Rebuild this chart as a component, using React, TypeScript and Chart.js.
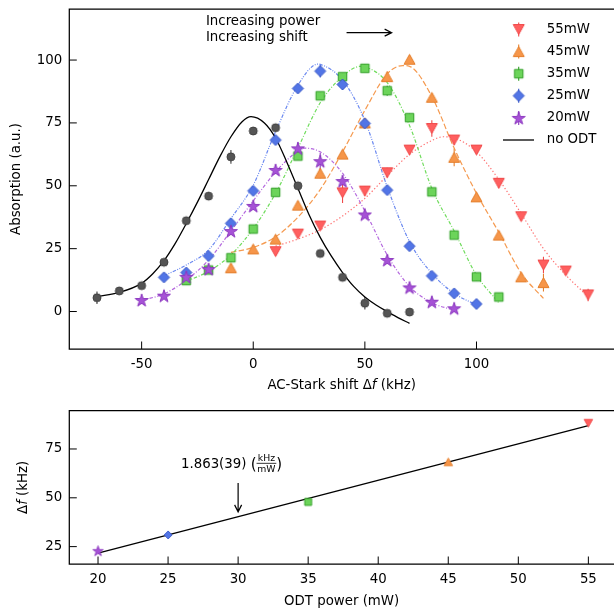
import React, { useEffect, useRef } from "react";
import { Chart, registerables } from "chart.js";

Chart.register(...registerables);

// ---------------- Top panel: absorption spectra ----------------
const xTicksTop = [-50, 0, 50, 100];
const yTicksTop = [0, 25, 50, 75, 100];

const x55 = [10, 20, 30, 40, 50, 60, 70, 80, 90, 100, 110, 120, 130, 140, 150];
const y55 = [23.8, 30.8, 34, 47.2, 47.9, 55.2, 64.2, 72.8, 68.2, 64.2, 51, 37.7, 18.5, 16.1, 6.6];
const e55 = [1.5, 1.5, 1.5, 4, 2, 2, 1.5, 3.3, 2, 1.5, 2, 1.5, 3.3, 1.5, 2.5];
const fitX55 = [10, 20, 30, 40, 50, 60, 70, 80, 85, 90, 100, 110, 120, 130, 140, 150];
const fitY55 = [26, 28.8, 32.5, 38, 45, 54, 62.5, 68, 69.5, 69, 63.5, 52.5, 39, 25, 14.5, 6];

const x45 = [-10, 0, 10, 20, 30, 40, 50, 60, 70, 80, 90, 100, 110, 120, 130];
const y45 = [17.4, 24.9, 28.8, 42.3, 55, 62.6, 75, 93.4, 100.3, 85.2, 61.3, 45.6, 30.4, 13.8, 11.5];
const e45 = [1.5, 1.5, 1.5, 1.5, 2, 1.5, 1.5, 2, 1.5, 1.5, 3.5, 1.5, 1.5, 1.5, 3.5];
const fitX45 = [-10, 0, 10, 20, 30, 40, 50, 60, 67, 70, 80, 90, 100, 110, 120, 130];
const fitY45 = [23.5, 25.5, 29.7, 37.5, 48.5, 63.5, 80, 94.5, 97.8, 97.5, 85.5, 65, 47, 31.5, 15.3, 5.2];

const x35 = [-30, -20, -10, 0, 10, 20, 30, 40, 50, 60, 70, 80, 90, 100, 110];
const y35 = [12.3, 16.5, 21.4, 32.8, 47.4, 61.8, 85.8, 93.4, 96.7, 87.8, 77.1, 47.6, 30.4, 13.8, 5.8];
const e35 = [1.5, 1.5, 1.5, 1.5, 1.5, 1.5, 1.5, 1.5, 1.5, 2, 1.5, 1.5, 1.5, 1.5, 1.5];
const fitX35 = [-30, -20, -10, 0, 10, 20, 30, 40, 48, 50, 60, 70, 80, 90, 100, 110];
const fitY35 = [12, 16, 22.5, 33, 47, 65, 83, 93.5, 97.5, 97.3, 91, 74, 49, 32, 14.5, 3.5];

const x25 = [-40, -30, -20, -10, 0, 10, 20, 30, 40, 50, 60, 70, 80, 90, 100];
const y25 = [13.6, 15.5, 22.1, 35.1, 48, 68.2, 88.7, 95.6, 90.3, 74.8, 48.3, 26, 14.2, 7.2, 3];
const e25 = [1.5, 1.5, 1.5, 1.5, 1.5, 1.5, 1.5, 2.5, 2, 1.5, 1.5, 1.5, 1.5, 1.5, 1.5];
const fitX25 = [-40, -30, -20, -10, 0, 10, 20, 29, 30, 40, 50, 60, 70, 80, 90, 100];
const fitY25 = [14.2, 18.5, 24.5, 37, 50.3, 71.5, 90, 98.4, 98.3, 92, 76, 49.6, 27.8, 15.2, 7.2, 2.6];

const x20 = [-50, -40, -30, -20, -10, 0, 10, 20, 30, 40, 50, 60, 70, 80, 90];
const y20 = [4.6, 6.3, 13.8, 16.9, 32, 42, 56.3, 64.9, 59.8, 51.9, 38.6, 20.5, 9.6, 3.9, 1.3];
const e20 = [1.5, 1.5, 1.5, 1.5, 1.5, 1.5, 1.5, 2.5, 3.3, 1.5, 1.5, 1.5, 1.5, 1.5, 1.5];
const fitX20 = [-50, -40, -30, -20, -10, 0, 10, 20, 22, 30, 40, 50, 60, 70, 80, 90];
const fitY20 = [4.5, 7, 12.5, 20.5, 32, 44, 55.5, 64, 65, 63.5, 55, 40, 22.5, 10, 3.5, 0.5];

const x0 = [-70, -60, -50, -40, -30, -20, -10, 0, 10, 20, 30, 40, 50, 60, 70];
const y0 = [5.5, 8.2, 10.3, 19.6, 36.1, 45.9, 61.5, 71.8, 73.1, 50, 23.1, 13.6, 3.3, -0.7, -0.2];
const e0 = [2.5, 1, 1, 1, 1.5, 1.5, 2.7, 1.5, 1.5, 1, 1, 1, 2.5, 1, 1];
const fitX0 = [-70, -60, -50, -45, -40, -35, -30, -25, -20, -15, -10, -5, -1, 5, 10, 15, 20, 25, 30, 35, 40, 45, 50, 55, 60, 65, 70];
const fitY0 = [5.9, 7.6, 11.2, 15, 20.2, 27, 35, 43.5, 52.5, 61.5, 69.5, 75.5, 77.5, 75, 69, 59.5, 49, 38.5, 29.5, 22, 15.5, 10, 5.8, 2.6, 0, -2.5, -4.7];

const seriesLabels = ["55mW", "45mW", "35mW", "25mW", "20mW", "no ODT"];

// ---------------- Bottom panel: shift vs power ----------------
const xTicksBottom = [20, 25, 30, 35, 40, 45, 50, 55];
const yTicksBottom = [25, 50, 75];
const odtPower = [20, 25, 35, 45, 55];
const starkShift = [22.9, 31, 47.9, 68.4, 88.2];
const linFitPower = [20, 55];
const linFitShift = [21.7, 86.9];

// ---------------- styling ----------------
const FAMILY = '"DejaVu Sans", sans-serif';
const FS = 13.33;
const fnt = (size: number, style = "") => `${style} ${size}px ${FAMILY}`.trim();

type Sty = { shape: string; fill: string; edge: string; line: string; dash: number[] };
const STY: Sty[] = [
  { shape: "v", fill: "#ff5f5f", edge: "#f04a4a", line: "#ff7070", dash: [1.3, 2.2] },
  { shape: "^", fill: "#f6964a", edge: "#e57f2c", line: "#f59a50", dash: [5.5, 2.4] },
  { shape: "s", fill: "#6cd45a", edge: "#2f9e24", line: "#6fdc5c", dash: [3.5, 1.8, 1, 1.8] },
  { shape: "D", fill: "#5275e6", edge: "#3454c6", line: "#6a88f0", dash: [3.5, 1.4, 1, 1.4, 1, 1.4] },
  { shape: "*", fill: "#a652d6", edge: "#8c38c0", line: "#b468de", dash: [3.5, 1.8, 1, 1.8] },
  { shape: "o", fill: "#555555", edge: "#404040", line: "#000000", dash: [] },
];

function makeMarker(shape: string, size: number, fill: string, edge: string, lw = 1): HTMLCanvasElement {
  const dim = Math.ceil(size + 4);
  const c = document.createElement("canvas");
  c.width = dim;
  c.height = dim;
  const g = c.getContext("2d")!;
  const cx = dim / 2, cy = dim / 2, r = size / 2;
  g.beginPath();
  if (shape === "v") {
    g.moveTo(cx - r, cy - r * 0.9); g.lineTo(cx + r, cy - r * 0.9); g.lineTo(cx, cy + r * 0.9);
  } else if (shape === "^") {
    g.moveTo(cx - r, cy + r * 0.9); g.lineTo(cx + r, cy + r * 0.9); g.lineTo(cx, cy - r * 0.9);
  } else if (shape === "s") {
    g.rect(cx - r, cy - r, size, size);
  } else if (shape === "D") {
    g.moveTo(cx, cy - r); g.lineTo(cx + r, cy); g.lineTo(cx, cy + r); g.lineTo(cx - r, cy);
  } else if (shape === "*") {
    const oy = cy + r * 0.1;
    for (let k = 0; k < 10; k++) {
      const a = -Math.PI / 2 + (k * Math.PI) / 5;
      const rr = k % 2 ? r * 0.382 : r;
      const px = cx + rr * Math.cos(a), py = oy + rr * Math.sin(a);
      if (k === 0) g.moveTo(px, py); else g.lineTo(px, py);
    }
  } else {
    g.arc(cx, cy, r, 0, Math.PI * 2);
  }
  g.closePath();
  g.fillStyle = fill;
  g.fill();
  g.lineWidth = lw;
  g.strokeStyle = edge;
  g.stroke();
  return c;
}

const TOP_SIZES: Record<string, number> = { v: 11, "^": 11, s: 8.5, D: 11, "*": 13.6, o: 8 };
const BOT_SIZES: Record<string, number> = { v: 8.5, "^": 8.5, s: 7, D: 8, "*": 11, o: 7 };

function drawRich(ctx: CanvasRenderingContext2D, parts: { t: string; i?: boolean }[], x: number, y: number, rotate = false) {
  ctx.save();
  ctx.translate(x, y);
  if (rotate) ctx.rotate(-Math.PI / 2);
  let total = 0;
  const ws = parts.map((p) => {
    ctx.font = fnt(FS, p.i ? "italic" : "");
    const w = ctx.measureText(p.t).width;
    total += w;
    return w;
  });
  let cx = -total / 2;
  ctx.textBaseline = "middle";
  ctx.textAlign = "left";
  ctx.fillStyle = "#000";
  parts.forEach((p, k) => {
    ctx.font = fnt(FS, p.i ? "italic" : "");
    ctx.fillText(p.t, cx, 0);
    cx += ws[k];
  });
  ctx.restore();
}

function drawFrame(chart: any, xT: number[], yT: number[]) {
  const { ctx, chartArea: a, scales } = chart;
  ctx.save();
  ctx.strokeStyle = "#000";
  ctx.lineWidth = 1.25;
  ctx.beginPath();
  ctx.moveTo(a.right + 2, a.top);
  ctx.lineTo(a.left, a.top);
  ctx.lineTo(a.left, a.bottom);
  ctx.lineTo(a.right + 2, a.bottom);
  ctx.stroke();
  ctx.lineWidth = 1;
  ctx.beginPath();
  for (const v of xT) {
    const px = scales.x.getPixelForValue(v);
    ctx.moveTo(px, a.bottom);
    ctx.lineTo(px, a.bottom - 7.5);
  }
  for (const v of yT) {
    const py = scales.y.getPixelForValue(v);
    ctx.moveTo(a.left, py);
    ctx.lineTo(a.left + 7.5, py);
  }
  ctx.stroke();
  ctx.restore();
}

function arrow(ctx: CanvasRenderingContext2D, x1: number, y1: number, x2: number, y2: number) {
  const ang = Math.atan2(y2 - y1, x2 - x1);
  const hl = 7, hw = 3.5;
  ctx.save();
  ctx.strokeStyle = "#000";
  ctx.lineWidth = 1.2;
  ctx.beginPath();
  ctx.moveTo(x1, y1);
  ctx.lineTo(x2, y2);
  ctx.moveTo(x2 - hl * Math.cos(ang) + hw * Math.sin(ang), y2 - hl * Math.sin(ang) - hw * Math.cos(ang));
  ctx.lineTo(x2, y2);
  ctx.lineTo(x2 - hl * Math.cos(ang) - hw * Math.sin(ang), y2 - hl * Math.sin(ang) + hw * Math.cos(ang));
  ctx.stroke();
  ctx.restore();
}

function scaleOpts(min: number, max: number, ticks: number[], axis: "x" | "y", size: number, pad: number) {
  return {
    type: "linear",
    min,
    max,
    grid: { display: false, drawTicks: false },
    border: { display: false },
    afterBuildTicks: (s: any) => {
      s.ticks = ticks.map((v) => ({ value: v }));
    },
    afterFit: (s: any) => {
      if (axis === "x") s.height = size;
      else s.width = size;
      s.paddingLeft = 0;
      s.paddingRight = 0;
      s.paddingTop = 0;
      s.paddingBottom = 0;
    },
    ticks: {
      autoSkip: false,
      maxRotation: 0,
      minRotation: 0,
      padding: pad,
      color: "#000",
      font: { family: FAMILY, size: FS },
      callback: (v: any) => String(v),
    },
  };
}

export default function App() {
  const topRef = useRef<HTMLCanvasElement | null>(null);
  const botRef = useRef<HTMLCanvasElement | null>(null);

  useEffect(() => {
    const xs = [x55, x45, x35, x25, x20, x0];
    const ys = [y55, y45, y35, y25, y20, y0];
    const es = [e55, e45, e35, e25, e20, e0];
    const fxs = [fitX55, fitX45, fitX35, fitX25, fitX20, fitX0];
    const fys = [fitY55, fitY45, fitY35, fitY25, fitY20, fitY0];

    const topMarkers = STY.map((s) => makeMarker(s.shape, TOP_SIZES[s.shape], s.fill, s.edge, 1));
    const botMarkers = STY.map((s) => makeMarker(s.shape, BOT_SIZES[s.shape], s.fill, s.edge, 0.9));

    const pointSets: any[] = [];
    for (let k = 5; k >= 0; k--) {
      pointSets.push({
        type: "scatter",
        label: seriesLabels[k],
        data: xs[k].map((x, i) => ({ x, y: ys[k][i] })),
        errors: es[k],
        errColor: STY[k].edge,
        pointStyle: topMarkers[k],
        pointRadius: 5,
        showLine: false,
      });
    }
    const fitSets: any[] = [];
    for (let k = 5; k >= 0; k--) {
      fitSets.push({
        type: "line",
        label: seriesLabels[k] + " fit",
        data: fxs[k].map((x, i) => ({ x, y: fys[k][i] })),
        borderColor: STY[k].line,
        borderWidth: k === 5 ? 1.3 : 1.2,
        borderDash: STY[k].dash,
        pointRadius: 0,
        cubicInterpolationMode: "monotone",
        fill: false,
      });
    }

    const topPlugin = {
      id: "topDecor",
      beforeDatasetsDraw(chart: any) {
        const { ctx, chartArea: a, scales } = chart;
        ctx.save();
        ctx.beginPath();
        ctx.rect(a.left, a.top, a.right - a.left, a.bottom - a.top);
        ctx.clip();
        ctx.lineWidth = 1.1;
        chart.data.datasets.forEach((ds: any) => {
          if (!ds.errors) return;
          ctx.strokeStyle = ds.errColor;
          ctx.beginPath();
          ds.data.forEach((p: any, i: number) => {
            const px = scales.x.getPixelForValue(p.x);
            ctx.moveTo(px, scales.y.getPixelForValue(p.y - ds.errors[i]));
            ctx.lineTo(px, scales.y.getPixelForValue(p.y + ds.errors[i]));
          });
          ctx.stroke();
        });
        ctx.restore();
      },
      afterDraw(chart: any) {
        const { ctx, chartArea: a, scales } = chart;
        drawFrame(chart, xTicksTop, yTicksTop);
        drawRich(ctx, [{ t: "AC-Stark shift Δ" }, { t: "f", i: true }, { t: " (kHz)" }], (a.left + a.right) / 2, a.bottom + 37);
        drawRich(ctx, [{ t: "Absorption (a.u.)" }], 17, (a.top + a.bottom) / 2, true);
        ctx.save();
        ctx.font = fnt(FS);
        ctx.fillStyle = "#000";
        ctx.textAlign = "left";
        ctx.textBaseline = "alphabetic";
        const tx = scales.x.getPixelForValue(-21.2);
        ctx.fillText("Increasing power", tx, scales.y.getPixelForValue(114.0));
        ctx.fillText("Increasing shift", tx, scales.y.getPixelForValue(107.4));
        ctx.restore();
        const ay = scales.y.getPixelForValue(110.9);
        arrow(ctx, scales.x.getPixelForValue(41.8), ay, scales.x.getPixelForValue(62.0), ay);
        const mx = 518.7, txl = 546.7, y0p = 29.5, dy = 22.1;
        ctx.save();
        seriesLabels.forEach((lab, k) => {
          const yy = y0p + dy * k;
          if (k < 5) {
            ctx.strokeStyle = STY[k].edge;
            ctx.lineWidth = 1.1;
            ctx.beginPath();
            ctx.moveTo(mx, yy - 7);
            ctx.lineTo(mx, yy + 7);
            ctx.stroke();
            const im = topMarkers[k];
            ctx.drawImage(im, mx - im.width / 2, yy - im.height / 2);
          } else {
            ctx.strokeStyle = "#000";
            ctx.lineWidth = 1.3;
            ctx.beginPath();
            ctx.moveTo(503, yy);
            ctx.lineTo(534, yy);
            ctx.stroke();
          }
          ctx.font = fnt(FS);
          ctx.fillStyle = "#000";
          ctx.textAlign = "left";
          ctx.textBaseline = "middle";
          ctx.fillText(lab, txl, yy);
        });
        ctx.restore();
      },
    };

    const top = new Chart(topRef.current!, {
      type: "scatter",
      data: { datasets: [...pointSets, ...fitSets] },
      options: {
        animation: false,
        responsive: false,
        devicePixelRatio: 1,
        layout: { autoPadding: false, padding: { top: 9, left: 0, right: 0, bottom: 0 } },
        plugins: { legend: { display: false }, tooltip: { enabled: false } },
        scales: {
          x: scaleOpts(-82.4, 161.6, xTicksTop, "x", 51, 8),
          y: scaleOpts(-14.9, 120.3, yTicksTop, "y", 69.3, 7),
        } as any,
      },
      plugins: [topPlugin],
    } as any);

    const botPlugin = {
      id: "botDecor",
      afterDraw(chart: any) {
        const { ctx, chartArea: a, scales } = chart;
        drawFrame(chart, xTicksBottom, yTicksBottom);
        drawRich(ctx, [{ t: "ODT power (mW)" }], (a.left + a.right) / 2, a.bottom + 37.5);
        drawRich(ctx, [{ t: "Δ" }, { t: "f", i: true }, { t: " (kHz)" }], 24, (a.top + a.bottom) / 2, true);
        const px = scales.x.getPixelForValue(25.92);
        const py = scales.y.getPixelForValue(67.8);
        ctx.save();
        ctx.fillStyle = "#000";
        ctx.textBaseline = "alphabetic";
        ctx.textAlign = "left";
        ctx.font = fnt(FS);
        const base = py + 4.9;
        const s1 = "1.863(39) ";
        ctx.fillText(s1, px, base);
        let cx = px + ctx.measureText(s1).width;
        ctx.font = fnt(15);
        ctx.fillText("(", cx, base + 1.5);
        cx += ctx.measureText("(").width;
        ctx.font = fnt(9.3);
        const fw = Math.max(ctx.measureText("kHz").width, ctx.measureText("mW").width) + 1.5;
        ctx.textAlign = "center";
        ctx.fillText("kHz", cx + fw / 2, py - 1.8);
        ctx.fillText("mW", cx + fw / 2, py + 8.6);
        ctx.strokeStyle = "#000";
        ctx.lineWidth = 0.8;
        ctx.beginPath();
        ctx.moveTo(cx, py + 0.3);
        ctx.lineTo(cx + fw, py + 0.3);
        ctx.stroke();
        cx += fw;
        ctx.textAlign = "left";
        ctx.font = fnt(15);
        ctx.fillText(")", cx, base + 1.5);
        ctx.restore();
        const ax = scales.x.getPixelForValue(30);
        arrow(ctx, ax, scales.y.getPixelForValue(57.6), ax, scales.y.getPixelForValue(42.8));
      },
    };

    const bot = new Chart(botRef.current!, {
      type: "scatter",
      data: {
        datasets: [
          {
            type: "scatter",
            label: "shift",
            data: odtPower.map((x, i) => ({ x, y: starkShift[i] })),
            pointStyle: [botMarkers[4], botMarkers[3], botMarkers[2], botMarkers[1], botMarkers[0]],
            pointRadius: 4,
            showLine: false,
          },
          {
            type: "line",
            label: "linear fit",
            data: linFitPower.map((x, i) => ({ x, y: linFitShift[i] })),
            borderColor: "#000",
            borderWidth: 1.3,
            pointRadius: 0,
            fill: false,
          },
        ],
      },
      options: {
        animation: false,
        responsive: false,
        devicePixelRatio: 1,
        layout: { autoPadding: false, padding: { top: 10.7, left: 0, right: 0, bottom: 0 } },
        plugins: { legend: { display: false }, tooltip: { enabled: false } },
        scales: {
          x: scaleOpts(17.95, 56.83, xTicksBottom, "x", 48, 8),
          y: scaleOpts(16.1, 94.6, yTicksBottom, "y", 69.3, 7),
        } as any,
      },
      plugins: [botPlugin],
    } as any);

    return () => {
      top.destroy();
      bot.destroy();
    };
  }, []);

  return (
    <div style={{ position: "absolute", left: 0, top: 0, width: 614, height: 612, overflow: "hidden", background: "#fff" }}>
      <canvas ref={topRef} width={614} height={400} style={{ position: "absolute", left: 0, top: 0, width: 614, height: 400 }} />
      <canvas ref={botRef} width={614} height={212} style={{ position: "absolute", left: 0, top: 400, width: 614, height: 212 }} />
    </div>
  );
}
